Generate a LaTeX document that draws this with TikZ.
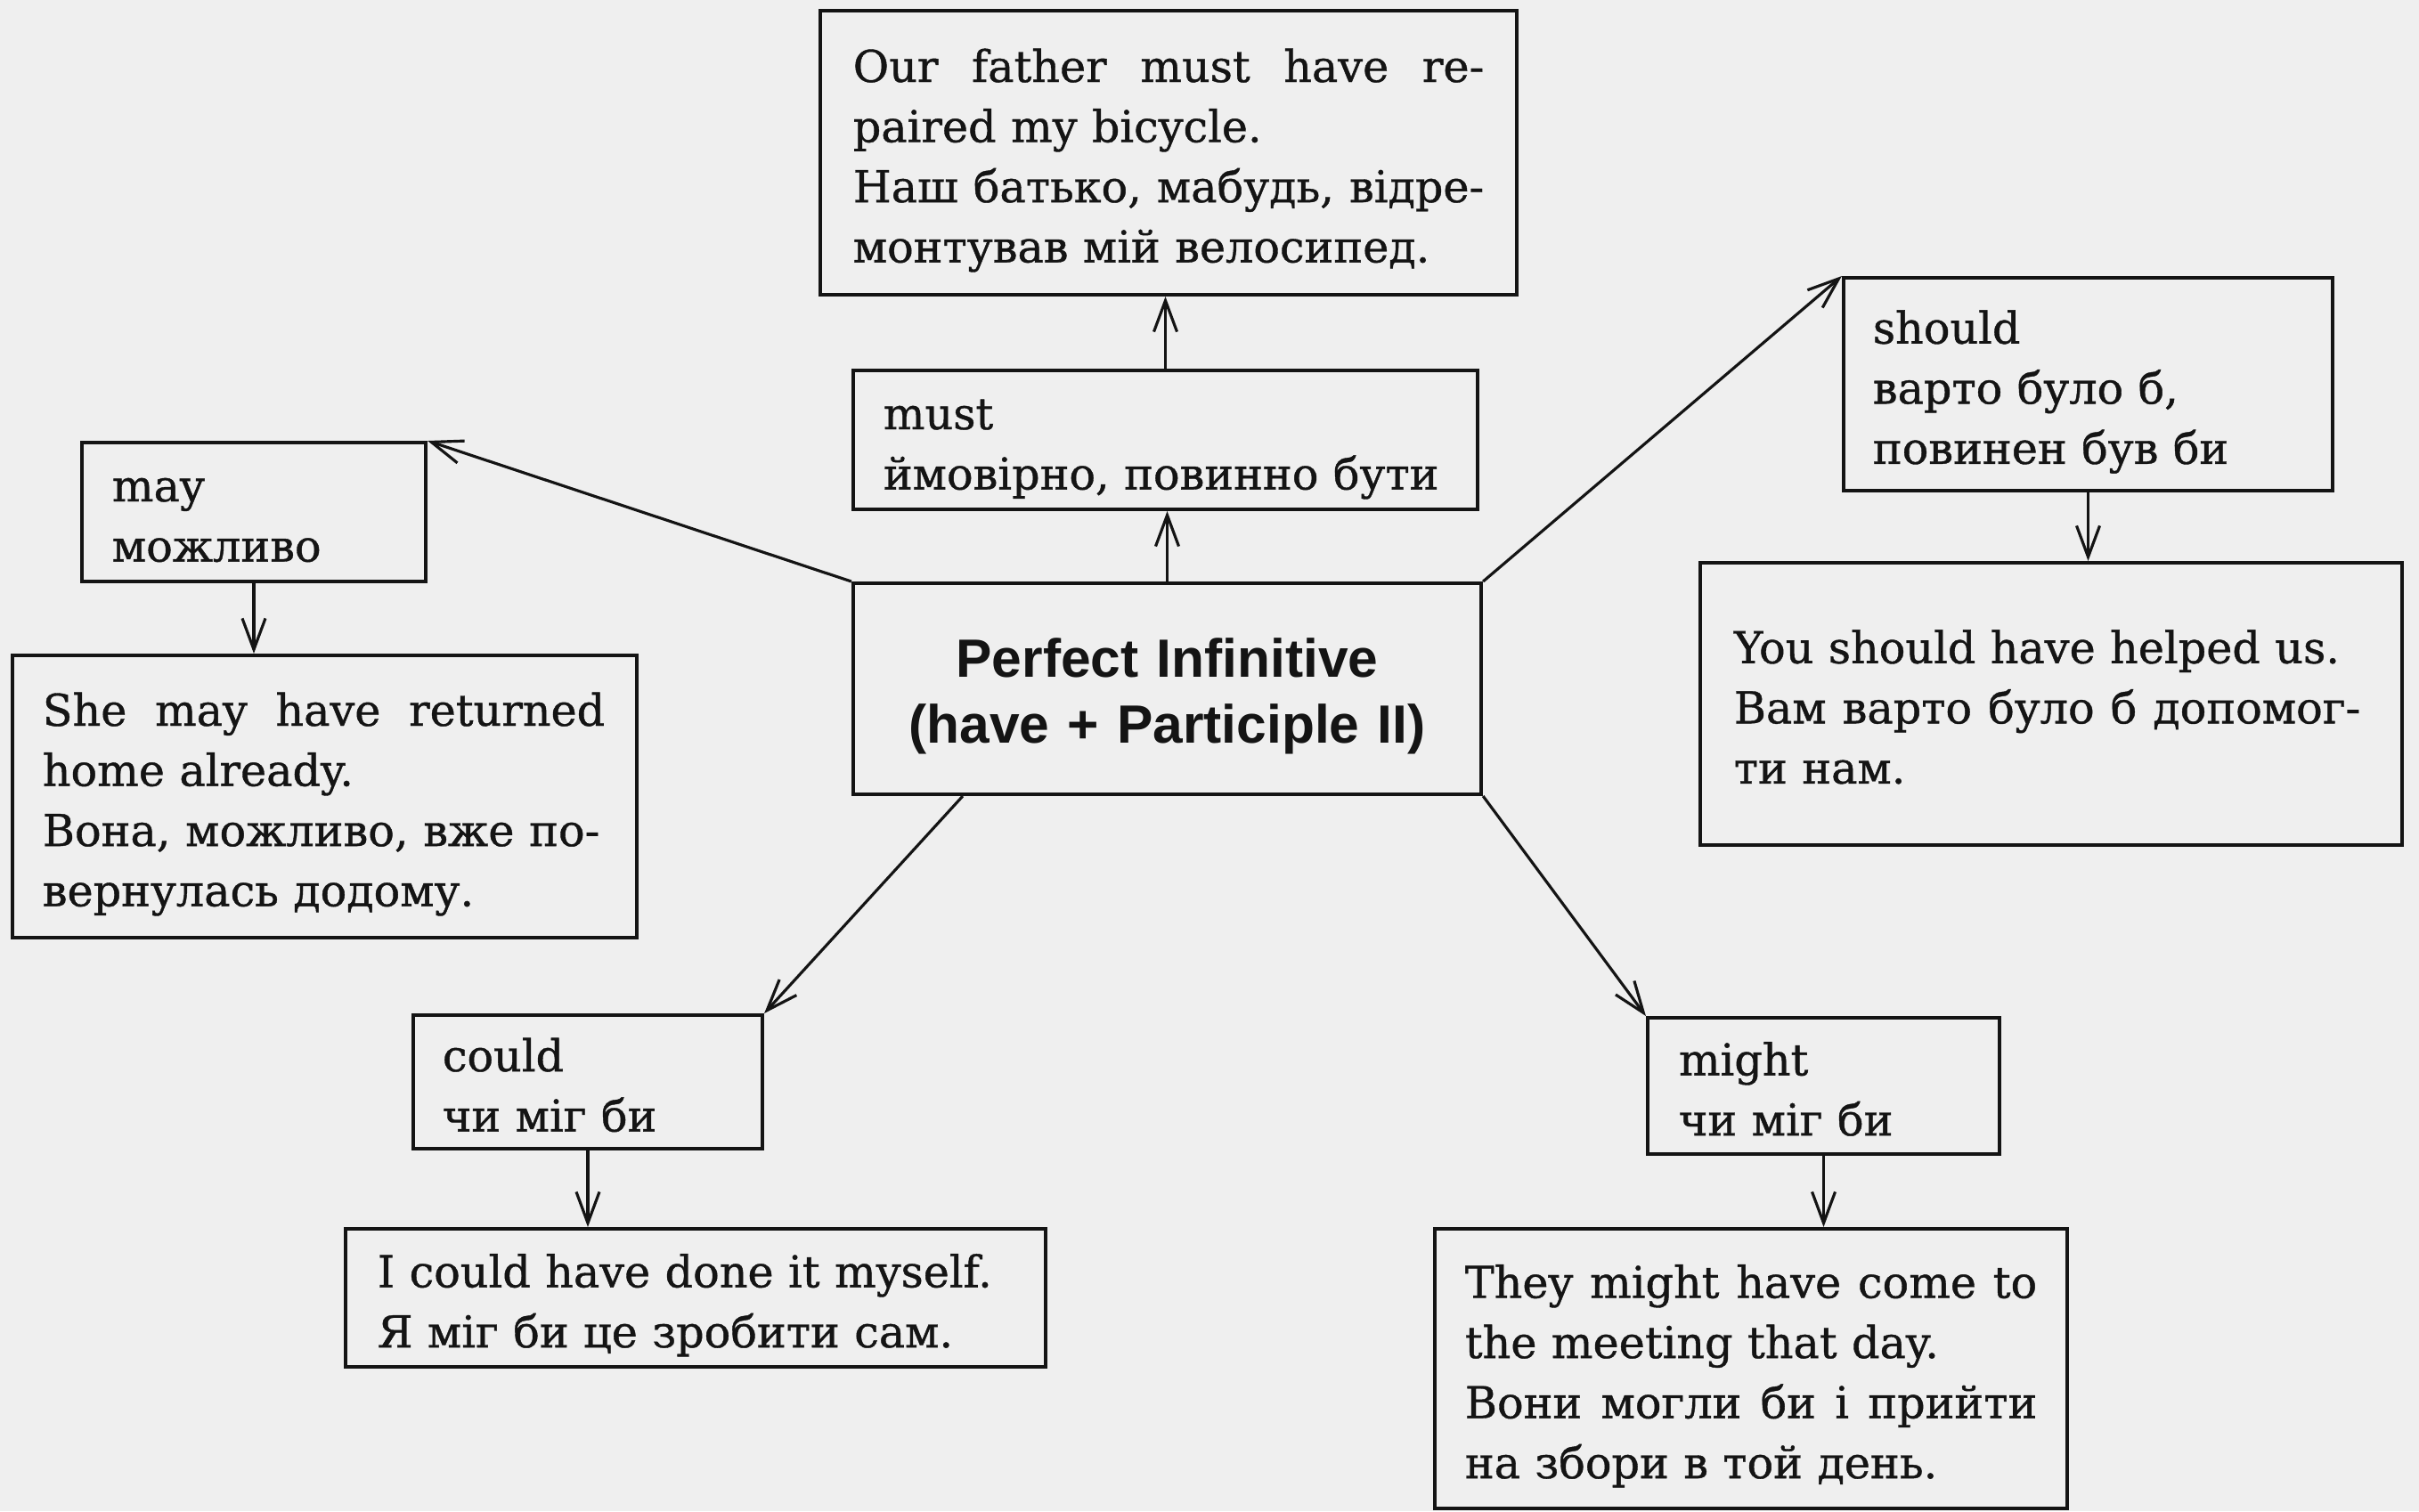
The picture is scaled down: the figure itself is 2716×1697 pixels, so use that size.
\documentclass[tikz,border=0pt]{standalone}
\usepackage{fontspec}
\setmainfont{DejaVu Serif}[FakeBold=0.8]
\newfontfamily\pisans{Liberation Sans}
\usetikzlibrary{arrows.meta}
\definecolor{bg}{HTML}{EFEFEF}
\definecolor{ink}{HTML}{141414}
\newcommand{\jline}[2]{\makebox[#1][s]{\spaceskip=0.3333em plus 1fil\relax #2}}
\tikzset{
  box/.style={draw=ink, text=ink, line width=1.1pt, rectangle, inner sep=0pt, align=left,
    font=\fontsize{14}{19.2}\selectfont,
    execute at begin node={\rule{0pt}{16.4pt}},
    execute at end node={\rule[-4pt]{0pt}{4pt}}},
  pibox/.style={draw=ink, text=ink, line width=1.1pt, rectangle, inner sep=0pt, align=center,
    text width=6.9cm, font=\pisans\bfseries\fontsize{17.2}{21.1}\selectfont,
    execute at begin node={\rule{0pt}{18.5pt}},
    execute at end node={\rule[-5pt]{0pt}{5pt}}},
  arr/.style={draw=ink, line width=0.9pt, -{Straight Barb[length=3.5mm,width=2.6mm]}}
}
\begin{document}
\begin{tikzpicture}[x=0.01cm,y=-0.01cm]
\useasboundingbox (0,0) rectangle (2716,1697);
\fill[bg] (0,0) rectangle (2716,1697);

\node[box, minimum width=7.82cm, minimum height=3.19cm, text width=7.08cm] (top) at (1312,171.5)
  {\jline{7.08cm}{Our father must have re-}\\ paired my bicycle.\\ \jline{7.08cm}{Наш батько, мабудь, відре-}\\ монтував мій велосипед.};
\node[box, minimum width=7.01cm, minimum height=1.56cm, text width=6.33cm] (must) at (1308.5,494)
  {must\\ ймовірно, повинно бути};
\node[box, minimum width=3.86cm, minimum height=1.56cm, text width=3.18cm] (may) at (285,575)
  {may\\ можливо};
\node[box, minimum width=7.01cm, minimum height=3.17cm, text width=6.33cm] (she) at (364.5,894.5)
  {\jline{6.31cm}{She may have returned}\\ home already.\\ \jline{6.25cm}{Вона, можливо, вже по-}\\ вернулась додому.};
\node[pibox, minimum width=7.05cm, minimum height=2.37cm] (pi) at (1310.5,773.5)
  {Perfect Infinitive\\ (have + Participle II)};
\node[box, minimum width=5.49cm, minimum height=2.39cm, text width=4.83cm] (should) at (2344.5,431.5)
  {should\\ варто було б,\\ повинен був би};
\node[box, minimum width=7.88cm, minimum height=3.17cm, text width=7.12cm] (you) at (2303,790.5)
  {You should have helped us.\\ \jline{7.03cm}{Вам варто було б допомог-}\\ ти нам.};
\node[box, minimum width=3.92cm, minimum height=1.50cm, text width=3.26cm] (could) at (660,1215)
  {could\\ чи міг би};
\node[box, minimum width=7.86cm, minimum height=1.55cm, text width=7.14cm] (icould) at (781,1457.5)
  {I could have done it myself.\\ Я міг би це зробити сам.};
\node[box, minimum width=3.95cm, minimum height=1.53cm, text width=3.25cm] (might) at (2047.5,1219.5)
  {might\\ чи міг би};
\node[box, minimum width=7.10cm, minimum height=3.14cm, text width=6.42cm] (they) at (1966,1537)
  {\jline{6.42cm}{They might have come to}\\ the meeting that day.\\ \jline{6.42cm}{Вони могли би і прийти}\\ на збори в той день.};

\draw[arr] (pi.north) -- (pi.north |- must.south);
\draw[arr] (must.north) -- (must.north |- top.south);
\draw[arr] (pi.north west) -- (may.north east);
\draw[arr] (may.south) -- (may.south |- she.north);
\draw[arr] (pi.north east) -- (should.north west);
\draw[arr] (should.south) -- (should.south |- you.north);
\draw[arr] ([xshift=1.25cm]pi.south west) -- (could.north east);
\draw[arr] (could.south) -- (could.south |- icould.north);
\draw[arr] (pi.south east) -- (might.north west);
\draw[arr] (might.south) -- (might.south |- they.north);
\end{tikzpicture}
\end{document}
